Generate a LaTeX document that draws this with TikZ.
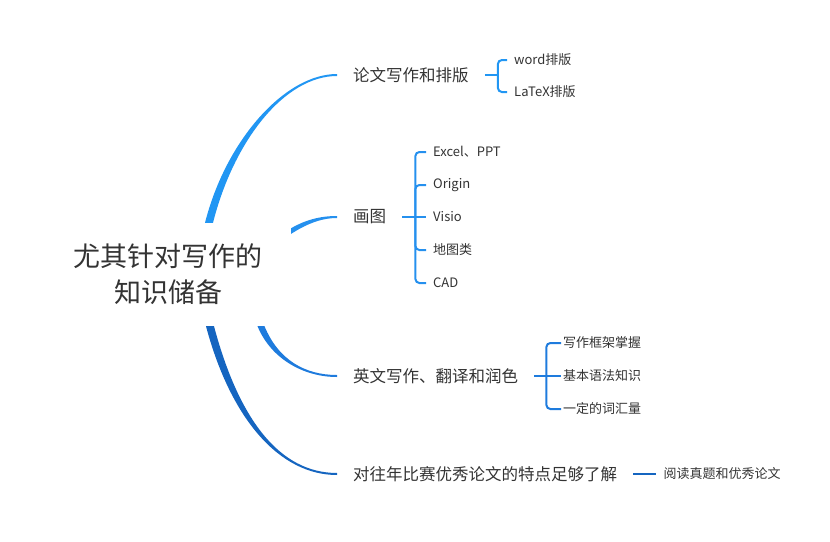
\documentclass[tikz,border=0pt]{standalone}
\usepackage{fontspec}
\setmainfont{Noto Sans CJK SC}
\usetikzlibrary{positioning, calc}

\definecolor{ink}{HTML}{333333}
\definecolor{blueA}{HTML}{2196F3}
\definecolor{blueB}{HTML}{2590EE}
\definecolor{blueC}{HTML}{1E7BDD}
\definecolor{blueD}{HTML}{1565C0}

\begin{document}
\begin{tikzpicture}[x=1pt, y=-1pt]
    \tikzstyle{rootnode}=[align=center, text=ink, minimum width=246pt, minimum height=103pt
    , inner sep=0pt, font=\fontsize{27}{36}\selectfont]
    \tikzstyle{topic}=[anchor=west, text=ink, inner xsep=16pt, inner ysep=2pt, font=\fontsize{16.5}{20}\selectfont]
    \tikzstyle{leaf}=[anchor=west, text=ink, inner xsep=7pt, inner ysep=1pt, font=\fontsize{13}{16}\selectfont]
    \tikzstyle{twig}=[line width=2pt, rounded corners=4pt]

    \useasboundingbox (0,0) rectangle (830,541);

    \node[rootnode] (root) at (168,274.5) {尤其针对写作的\\知识储备};
    \node[topic] (paper) at (337,75) {论文写作和排版};
    \node[topic] (plot) at (337,217) {画图};
    \node[topic] (english) at (337,376) {英文写作、翻译和润色};
    \node[topic] (past) at (337,474) {对往年比赛优秀论文的特点足够了解};

    % where the branches leave the root
    \coordinate (s1) at ([xshift=41pt]root.north);
    \coordinate (s2) at ([yshift=43.5pt]root.east);
    \coordinate (s3) at ([xshift=93pt]root.south);
    \coordinate (s4) at ([xshift=42pt]root.south);

    % main branches
    \fill[blueA] ($(s1)+(-4,0)$) .. controls ($(230,140)+(-4,0)$) and (285,74) .. ($(paper.west)+(0,-1)$)
        -- ($(paper.west)+(0,1)$) .. controls (285,76) and ($(230,140)+(4,0)$) .. ($(s1)+(4,0)$) -- cycle;
    \fill[blueB] ($(s2)+(0,-2.8)$) .. controls (305,220) and (320,216) .. ($(plot.west)+(0,-1)$)
        -- ($(plot.west)+(0,1)$) .. controls (320,218) and (305,225) .. ($(s2)+(0,2.8)$) -- cycle;
    \fill[blueC] ($(s3)+(-3.5,0)$) .. controls ($(275,360)+(-3.5,0)$) and (305,377) .. ($(english.west)+(0,1)$)
        -- ($(english.west)+(0,-1)$) .. controls (305,375) and ($(275,360)+(3.5,0)$) .. ($(s3)+(3.5,0)$) -- cycle;
    \fill[blueD] ($(s4)+(-4,0)$) .. controls ($(235,420)+(-4,0)$) and (280,475) .. ($(past.west)+(0,1)$)
        -- ($(past.west)+(0,-1)$) .. controls (280,473) and ($(235,420)+(4,0)$) .. ($(s4)+(4,0)$) -- cycle;

    % paper
    \node[leaf] (word) at (507,60) {word排版};
    \node[leaf] (latex) at (507,92) {LaTeX排版};
    \draw[twig, blueA] (paper.east) -- ++(13,0) coordinate (j1);
    \draw[twig, blueA] (j1) |- (word.west);
    \draw[twig, blueA] (j1) |- (latex.west);

    % plot
    \node[leaf] (excel) at (426,152) {Excel、PPT};
    \node[leaf] (origin) at (426,185) {Origin};
    \node[leaf] (visio) at (426,217) {Visio};
    \node[leaf] (maps) at (426,250) {地图类};
    \node[leaf] (cad) at (426,283) {CAD};
    \draw[twig, blueB] (plot.east) -- ++(13,0) coordinate (j2);
    \draw[twig, blueB] (j2) |- (excel.west);
    \draw[twig, blueB] (j2) |- (origin.west);
    \draw[twig, blueB] (j2) -- (visio.west);
    \draw[twig, blueB] (j2) |- (maps.west);
    \draw[twig, blueB] (j2) |- (cad.west);

    % english
    \node[leaf, inner xsep=2pt] (frame) at (561,343) {写作框架掌握};
    \node[leaf, inner xsep=2pt] (grammar) at (561,376) {基本语法知识};
    \node[leaf, inner xsep=2pt] (vocab) at (561,409) {一定的词汇量};
    \draw[twig, blueC] (english.east) -- ++(12,0) coordinate (j3);
    \draw[twig, blueC] (j3) |- (frame.west);
    \draw[twig, blueC] (j3) -- (grammar.west);
    \draw[twig, blueC] (j3) |- (vocab.west);

    % past papers
    \node[leaf, right=23pt of past] (reading) {阅读真题和优秀论文};
    \draw[twig, blueD] (past) -- (reading);

\end{tikzpicture}
\end{document}
